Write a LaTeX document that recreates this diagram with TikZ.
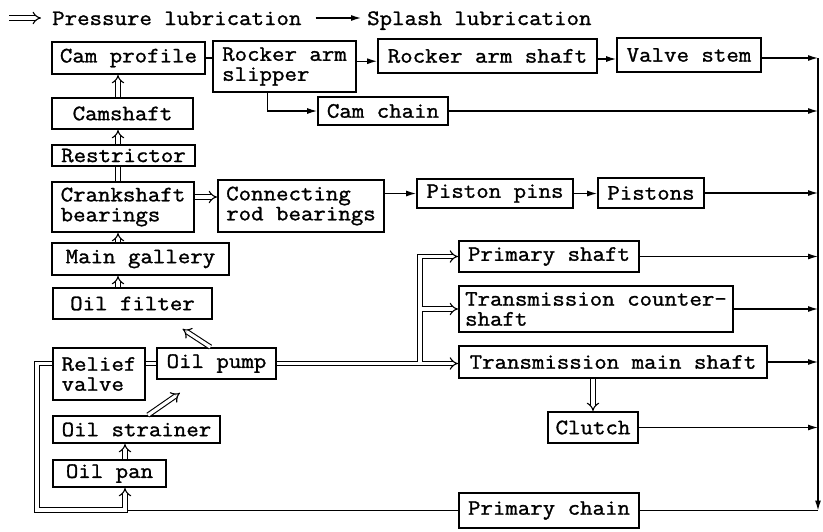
\documentclass[tikz,border=0pt]{standalone}
\usepackage{fontspec}
\newfontfamily\tw{Latin Modern Mono}[FakeStretch=1.1,FakeBold=1.3]
\usetikzlibrary{arrows.meta,calc}
\begin{document}
\begin{tikzpicture}[x=1pt,y=-1pt,
  txt/.style={inner sep=0pt, font=\tw\fontsize{22}{20}\selectfont},
  box/.style={draw, line width=1.8pt, inner sep=0pt, font=\tw\fontsize{22}{20}\selectfont},
  arr/.style={line width=1.2pt, -{Latex[length=10pt,width=6pt]}},
  sline/.style={line width=1.2pt},
  dline/.style={double, double distance=3.2pt, line width=1.1pt},
  dbl/.style={dline, -{Implies[scale=1.25]}}]
\useasboundingbox (0,0) rectangle (823,531);
% legend
\node[txt, anchor=base west] (lp) at (52,25) {Pressure lubrication};
\node[txt, anchor=base west] (ls) at (367,25) {Splash lubrication};
\coordinate (lg) at (9,18);
\draw[dbl] (lg) -- ([xshift=-11pt]lp.west |- lg);
\draw[arr] ([xshift=14pt]lp.east |- lg) -- ([xshift=-6pt]ls.west |- lg);
% boxes
\node[box, minimum width=153, minimum height=32] (camprof) at (128.5,58) {Cam profile};
\node[box, minimum width=143, minimum height=51, align=left] (rocker) at (284.5,66.5) {Rocker arm\\slipper};
\node[box, minimum width=219, minimum height=34] (rshaft) at (487.5,56) {Rocker arm shaft};
\node[box, minimum width=144, minimum height=34] (vstem) at (689,55) {Valve stem};
\node[box, minimum width=141, minimum height=31] (camshaft) at (122.5,113.5) {Camshaft};
\node[box, minimum width=130, minimum height=28] (camchain) at (383,111) {Cam chain};
\node[box, minimum width=143, minimum height=21] (restr) at (123.5,155.5) {Restrictor};
\node[box, minimum width=142, minimum height=50, align=left] (crank) at (123,207) {Crankshaft\\bearings};
\node[box, minimum width=166, minimum height=52, align=left] (conrod) at (301,206) {Connecting\\rod bearings};
\node[box, minimum width=177, minimum height=32] (gallery) at (140.5,259) {Main gallery};
\node[box, minimum width=156, minimum height=29] (ppins) at (495,193.5) {Piston pins};
\node[box, minimum width=106, minimum height=30] (pistons) at (651,193) {Pistons};
\node[box, minimum width=180, minimum height=31] (pshaft) at (549,256.5) {Primary shaft};
\node[box, minimum width=274, minimum height=46, align=left] (cshaft) at (596,309) {Transmission counter-\\shaft};
\node[box, minimum width=308, minimum height=32] (mshaft) at (613,362) {Transmission main shaft};
\node[box, minimum width=90, minimum height=31] (clutch) at (593,427.5) {Clutch};
\node[box, minimum width=180, minimum height=35] (pchain) at (549,510.5) {Primary chain};
\node[box, minimum width=159, minimum height=31] (filter) at (132.5,303.5) {Oil filter};
\node[box, minimum width=92, minimum height=52, align=left] (relief) at (99,374) {Relief\\valve};
\node[box, minimum width=119, minimum height=31] (pump) at (216.5,363.5) {Oil pump};
\node[box, minimum width=167, minimum height=27] (strainer) at (136.5,429.5) {Oil strainer};
\node[box, minimum width=113, minimum height=27] (pan) at (109.5,473.5) {Oil pan};
% helper coordinates
\coordinate (lc) at (118,0);
\coordinate (pc) at (125,0);
\coordinate (ctop) at (818,58);
\coordinate (br) at (420,0);
\coordinate (rb) at (37,510);
\coordinate (rk) at ($(rocker.north east)!0.4!(rocker.south east)$);
\coordinate (rs) at ($(rocker.south west)!0.38!(rocker.south east)$);
\coordinate (pu) at ($(pump.north west)!0.45!(pump.north east)$);
% left column (pressure)
\draw[dbl] (filter.north -| lc) -- (gallery.south -| lc);
\draw[dbl] (gallery.north -| lc) -- (crank.south -| lc);
\draw[dline] (crank.north -| lc) -- (restr.south -| lc);
\draw[dbl] (restr.north -| lc) -- (camshaft.south -| lc);
\draw[dbl] (camshaft.north -| lc) -- (camprof.south -| lc);
\draw[sline] (camprof.east) -- (camprof.east -| rocker.west);
\draw[dbl] ([yshift=10pt]crank.east) -- ([yshift=10pt]crank.east -| conrod.west);
\draw[dbl] (pan.north -| pc) -- (strainer.south -| pc);
\draw[dbl] ([xshift=11.5pt]strainer.north) -- ([xshift=-36.5pt,yshift=-13pt]pump.south);
\draw[dbl] (pu) -- ([xshift=50pt,yshift=-9pt]filter.south);
\draw[dline] (pump.west -| relief.east) -- (pump.west);
\draw[dbl] (relief.west |- pump.west) -| (rb) -| (pan.south -| pc);
% pump to transmission
\draw[dbl] (pump.east) -- (pump.east -| mshaft.west);
\draw[dbl] ([yshift=1.6pt]pump.east -| br) |- (pshaft.west);
\draw[dbl] ([xshift=1.6pt]br |- cshaft.west) -- (cshaft.west);
\draw[dbl] (mshaft.south -| clutch.north) -- (clutch.north);
% splash
\draw[arr] (rk) -- (rk -| rshaft.west);
\draw[arr] ([yshift=-3pt]rshaft.east) -- ([yshift=-3pt]rshaft.east -| vstem.west);
\draw[arr] (rs) |- (camchain.west);
\draw[arr] (conrod.east |- ppins.west) -- (ppins.west);
\draw[arr] (ppins.east) -- (ppins.east -| pistons.west);
\draw[arr] (vstem.east |- ctop) -- (ctop);
\draw[arr] (camchain.east) -- (camchain.east -| ctop);
\draw[arr] (pistons.east) -- (pistons.east -| ctop);
\draw[arr] (pshaft.east) -- (pshaft.east -| ctop);
\draw[arr] (cshaft.east) -- (cshaft.east -| ctop);
\draw[arr] (mshaft.east) -- (mshaft.east -| ctop);
\draw[arr] (clutch.east) -- (clutch.east -| ctop);
\draw[arr] (ctop) -- (ctop |- pchain.east);
\draw[sline] (ctop |- pchain.east) -- (pchain.east);
\draw[sline] (pchain.west) -- ([xshift=2.8pt]pchain.west -| pc);
\end{tikzpicture}
\end{document}
